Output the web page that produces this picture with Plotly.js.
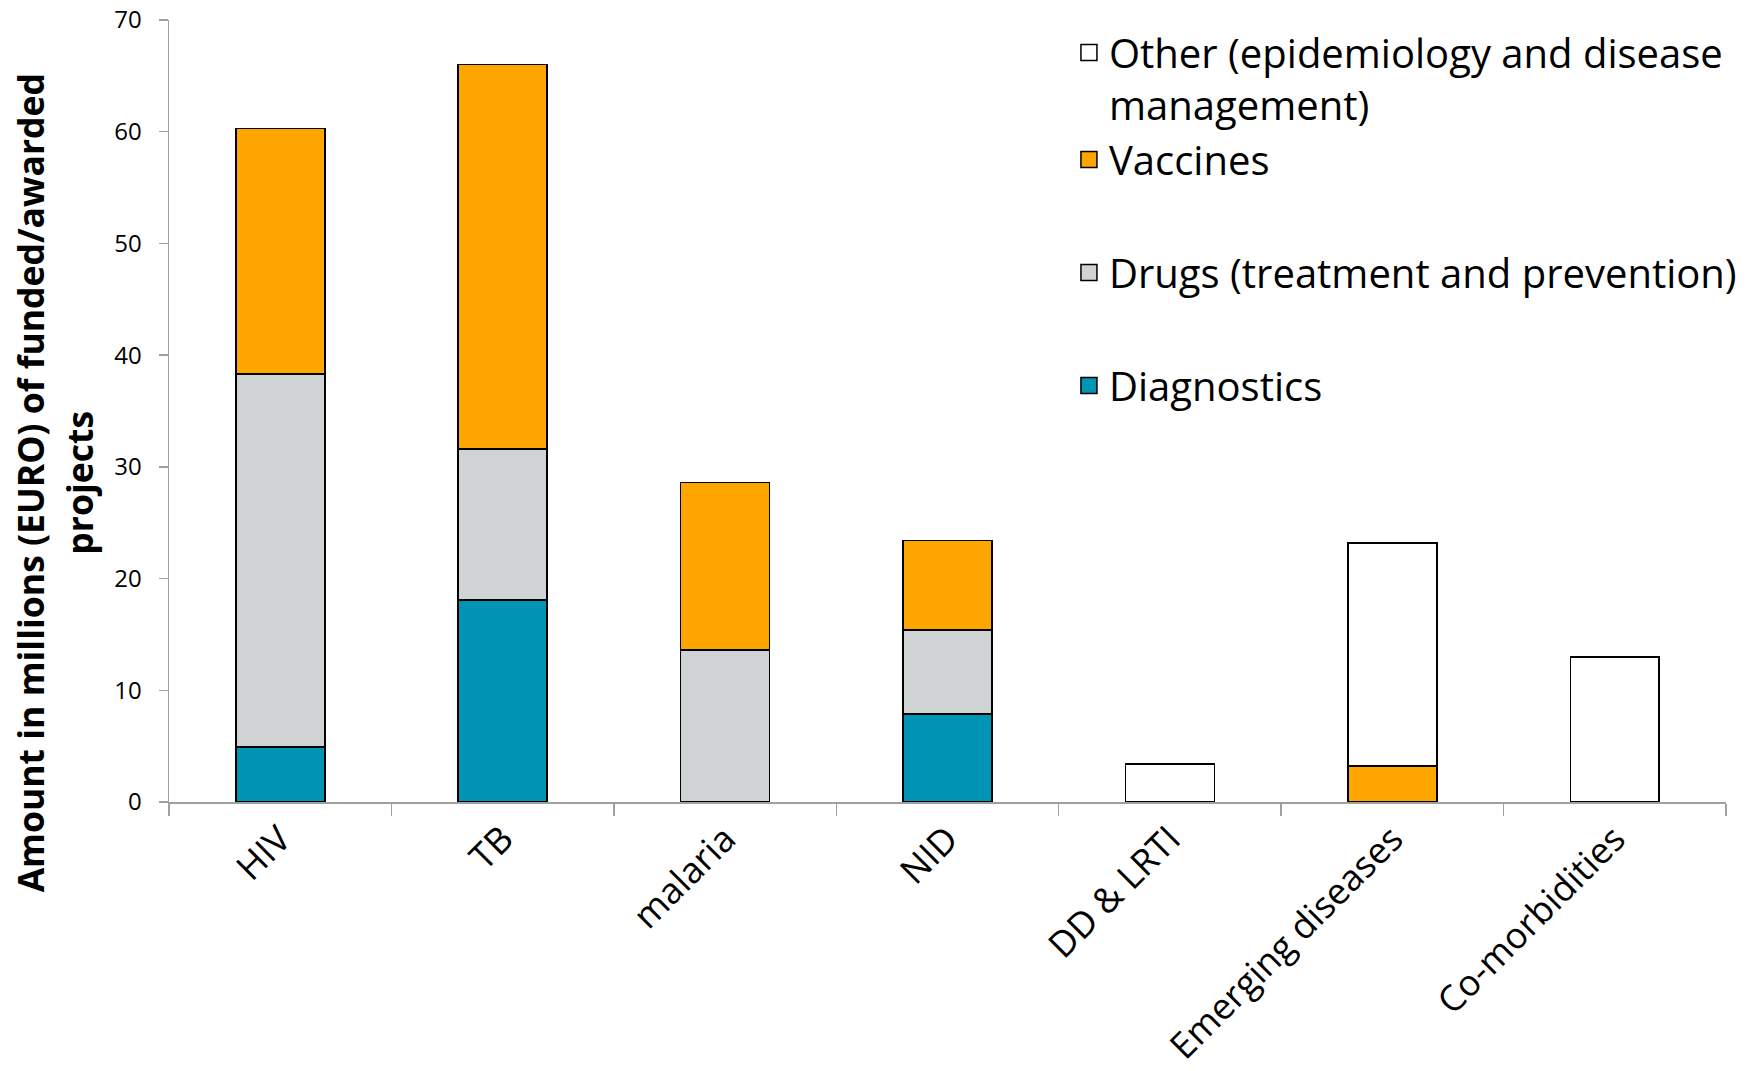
<!DOCTYPE html>
<html>
<head>
<meta charset="utf-8">
<script src="https://cdn.plot.ly/plotly-3.0.1.min.js"></script>
<style>html,body{margin:0;padding:0;background:#fff}#chart{width:1761px;height:1071px}</style>
</head>
<body>
<div id="chart"></div>
<script>
const categories = ["HIV", "TB", "malaria", "NID", "DD &amp; LRTI", "Emerging diseases", "Co-morbidities"];
const diagnostics = [4.95, 18.1, 0, 7.9, 0, 0, 0];
const drugs = [33.35, 13.5, 13.6, 7.5, 0, 0, 0];
const vaccines = [22.0, 34.4, 15.0, 8.0, 0, 3.2, 0];
const other = [0, 0, 0, 0, 3.4, 20.0, 13.0];

const seriesNames = ["Diagnostics", "Drugs (treatment and prevention)", "Vaccines", "Other (epidemiology and disease<br>management)"];
const seriesColors = ["#0095b5", "#d0d3d4", "#ffa500", "#ffffff"];
const seriesGroups = ["g1", "g2", "g3", "g3"];
const seriesRanks = [4, 3, 2, 1];
const seriesValues = [diagnostics, drugs, vaccines, other];

const yTitleLines = ["Amount in millions (EURO) of funded/awarded", "projects"];

const FONT = "'Open Sans', 'Noto Sans', sans-serif";

const barTraces = seriesValues.map((vals, i) => ({
  type: "bar",
  name: seriesNames[i],
  x: categories,
  y: vals,
  showlegend: false,
  marker: {color: seriesColors[i], line: {color: "#000000", width: 1.6}},
  hoverinfo: "x+y+name"
}));

// legend-only entries (larger square swatches); they draw no marks
const legendTraces = seriesNames.map((nm, i) => ({
  type: "scatter",
  mode: "markers",
  name: nm,
  x: [categories[0]],
  y: [null],
  legendgroup: seriesGroups[i],
  legendrank: seriesRanks[i],
  marker: {symbol: "square", size: 16, color: seriesColors[i], line: {color: "#000000", width: 1.5}},
  hoverinfo: "skip"
}));

const titleFont = {family: FONT, size: 35.5, color: "#000000", weight: "bold"};
const annotations = [
  {text: yTitleLines[0], xref: "paper", yref: "paper", x: -0.089, y: 0.408, xanchor: "center", yanchor: "middle",
   textangle: -90, showarrow: false, font: titleFont},
  {text: yTitleLines[1], xref: "paper", yref: "paper", x: -0.058, y: 0.408, xanchor: "center", yanchor: "middle",
   textangle: -90, showarrow: false, font: titleFont}
];

const layout = {
  width: 1761,
  height: 1071,
  margin: {l: 169, r: 35, t: 20, b: 269},
  barmode: "stack",
  bargap: 0.6,
  paper_bgcolor: "#ffffff",
  plot_bgcolor: "#ffffff",
  font: {family: FONT, color: "#000000"},
  showlegend: true,
  legend: {
    x: 0.578, y: 1.0, xanchor: "left", yanchor: "top",
    traceorder: "grouped",
    tracegroupgap: 58,
    valign: "top",
    font: {family: FONT, size: 40, color: "#000000"},
    bgcolor: "rgba(0,0,0,0)"
  },
  annotations: annotations,
  xaxis: {
    type: "category",
    showline: true, linecolor: "#a0a0a0", linewidth: 1.5,
    ticks: "outside", tickson: "boundaries", ticklen: 12, tickcolor: "#a0a0a0", tickwidth: 1.5,
    tickangle: -45,
    tickfont: {family: FONT, size: 36, color: "#000000"},
    showgrid: false, zeroline: false
  },
  yaxis: {
    range: [0, 70], dtick: 10,
    showline: true, linecolor: "#a0a0a0", linewidth: 1.5,
    ticks: "outside", ticklen: 9, tickcolor: "#a0a0a0", tickwidth: 1.5,
    ticklabelstandoff: 12,
    tickfont: {family: FONT, size: 24, color: "#000000"},
    showgrid: false, zeroline: false
  }
};

Plotly.newPlot("chart", barTraces.concat(legendTraces), layout, {displayModeBar: false, staticPlot: true});
</script>
</body>
</html>
